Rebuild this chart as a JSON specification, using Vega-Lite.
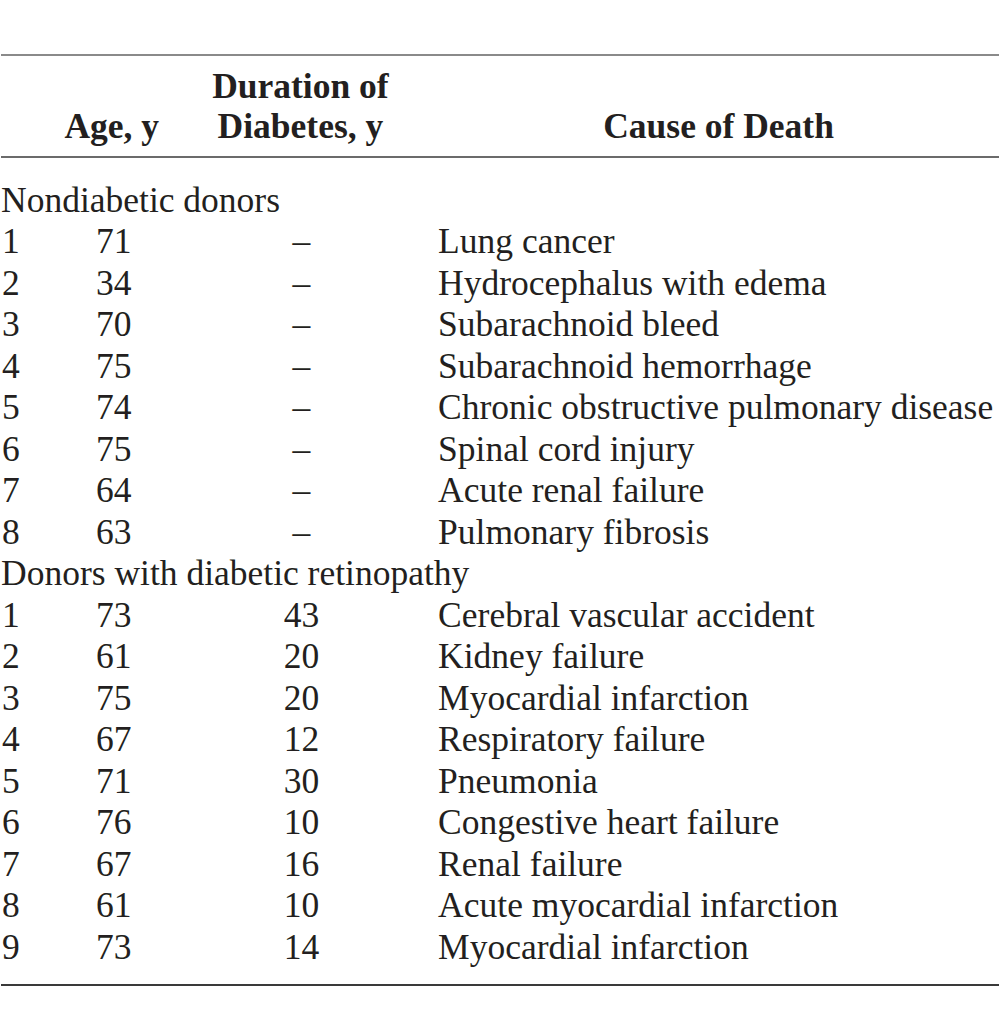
{
  "$schema": "https://vega.github.io/schema/vega-lite/v6.json",
  "width": 1000,
  "height": 1029,
  "autosize": {"type": "fit", "contains": "padding"},
  "padding": 0,
  "background": "white",
  "config": {"view": {"stroke": null}, "text": {"font": "Liberation Serif", "fontSize": 35.5, "color": "#231f20", "baseline": "alphabetic"}},
  "datasets": {
    "rows": [
      {"r": 1, "num": "1", "age": "71", "dur": "–", "cause": "Lung cancer"},
      {"r": 2, "num": "2", "age": "34", "dur": "–", "cause": "Hydrocephalus with edema"},
      {"r": 3, "num": "3", "age": "70", "dur": "–", "cause": "Subarachnoid bleed"},
      {"r": 4, "num": "4", "age": "75", "dur": "–", "cause": "Subarachnoid hemorrhage"},
      {"r": 5, "num": "5", "age": "74", "dur": "–", "cause": "Chronic obstructive pulmonary disease"},
      {"r": 6, "num": "6", "age": "75", "dur": "–", "cause": "Spinal cord injury"},
      {"r": 7, "num": "7", "age": "64", "dur": "–", "cause": "Acute renal failure"},
      {"r": 8, "num": "8", "age": "63", "dur": "–", "cause": "Pulmonary fibrosis"},
      {"r": 10, "num": "1", "age": "73", "dur": "43", "cause": "Cerebral vascular accident"},
      {"r": 11, "num": "2", "age": "61", "dur": "20", "cause": "Kidney failure"},
      {"r": 12, "num": "3", "age": "75", "dur": "20", "cause": "Myocardial infarction"},
      {"r": 13, "num": "4", "age": "67", "dur": "12", "cause": "Respiratory failure"},
      {"r": 14, "num": "5", "age": "71", "dur": "30", "cause": "Pneumonia"},
      {"r": 15, "num": "6", "age": "76", "dur": "10", "cause": "Congestive heart failure"},
      {"r": 16, "num": "7", "age": "67", "dur": "16", "cause": "Renal failure"},
      {"r": 17, "num": "8", "age": "61", "dur": "10", "cause": "Acute myocardial infarction"},
      {"r": 18, "num": "9", "age": "73", "dur": "14", "cause": "Myocardial infarction"}
    ],
    "groups": [
      {"r": 0, "label": "Nondiabetic donors"},
      {"r": 9, "label": "Donors with diabetic retinopathy"}
    ],
    "headers": [
      {"line": 1, "col": "dur", "text": "Duration of"},
      {"line": 2, "col": "age", "text": "Age, y"},
      {"line": 2, "col": "dur", "text": "Diabetes, y"},
      {"line": 2, "col": "cause", "text": "Cause of Death"}
    ]
  },
  "layer": [
    {
      "data": {"values": [{}]},
      "mark": {"type": "rule", "stroke": "#8a8a8a", "strokeWidth": 2},
      "encoding": {"y": {"datum": -3.783, "type": "quantitative", "scale": {"domain": [-5.108, 19.687], "reverse": true, "nice": false, "zero": false}, "axis": null}, "x": {"datum": 0, "type": "quantitative", "scale": {"domain": [0, 1000], "nice": false, "zero": false}, "axis": null}, "x2": {"datum": 1000}}
    },
    {
      "data": {"values": [{}]},
      "mark": {"type": "rule", "stroke": "#6b6b6b", "strokeWidth": 2},
      "encoding": {"y": {"datum": -1.325, "type": "quantitative"}, "x": {"datum": 0, "type": "quantitative"}, "x2": {"datum": 1000}}
    },
    {
      "data": {"values": [{}]},
      "mark": {"type": "rule", "stroke": "#3a3a3a", "strokeWidth": 2},
      "encoding": {"y": {"datum": 18.627, "type": "quantitative"}, "x": {"datum": 0, "type": "quantitative"}, "x2": {"datum": 1000}}
    },
    {
      "data": {"name": "headers"},
      "transform": [
        {"lookup": "col", "from": {"data": {"values": [{"col": "age", "cx": 111}, {"col": "dur", "cx": 300}, {"col": "cause", "cx": 719}]}, "key": "col", "fields": ["cx"]}},
        {"lookup": "line", "from": {"data": {"values": [{"line": 1, "ly": -2.747}, {"line": 2, "ly": -1.783}]}, "key": "line", "fields": ["ly"]}}
      ],
      "mark": {"type": "text", "align": "center", "fontWeight": "bold"},
      "encoding": {"x": {"field": "cx", "type": "quantitative"}, "y": {"field": "ly", "type": "quantitative"}, "text": {"field": "text"}}
    },
    {
      "data": {"name": "groups"},
      "mark": {"type": "text", "align": "left"},
      "encoding": {"x": {"datum": 0, "type": "quantitative"}, "y": {"field": "r", "type": "quantitative"}, "text": {"field": "label"}}
    },
    {
      "data": {"name": "rows"},
      "mark": {"type": "text", "align": "left"},
      "encoding": {"x": {"datum": 1, "type": "quantitative"}, "y": {"field": "r", "type": "quantitative"}, "text": {"field": "num"}}
    },
    {
      "data": {"name": "rows"},
      "mark": {"type": "text", "align": "center"},
      "encoding": {"x": {"datum": 113, "type": "quantitative"}, "y": {"field": "r", "type": "quantitative"}, "text": {"field": "age"}}
    },
    {
      "data": {"name": "rows"},
      "mark": {"type": "text", "align": "center"},
      "encoding": {"x": {"datum": 301, "type": "quantitative"}, "y": {"field": "r", "type": "quantitative"}, "text": {"field": "dur"}}
    },
    {
      "data": {"name": "rows"},
      "mark": {"type": "text", "align": "left"},
      "encoding": {"x": {"datum": 438, "type": "quantitative"}, "y": {"field": "r", "type": "quantitative"}, "text": {"field": "cause"}}
    }
  ]
}
